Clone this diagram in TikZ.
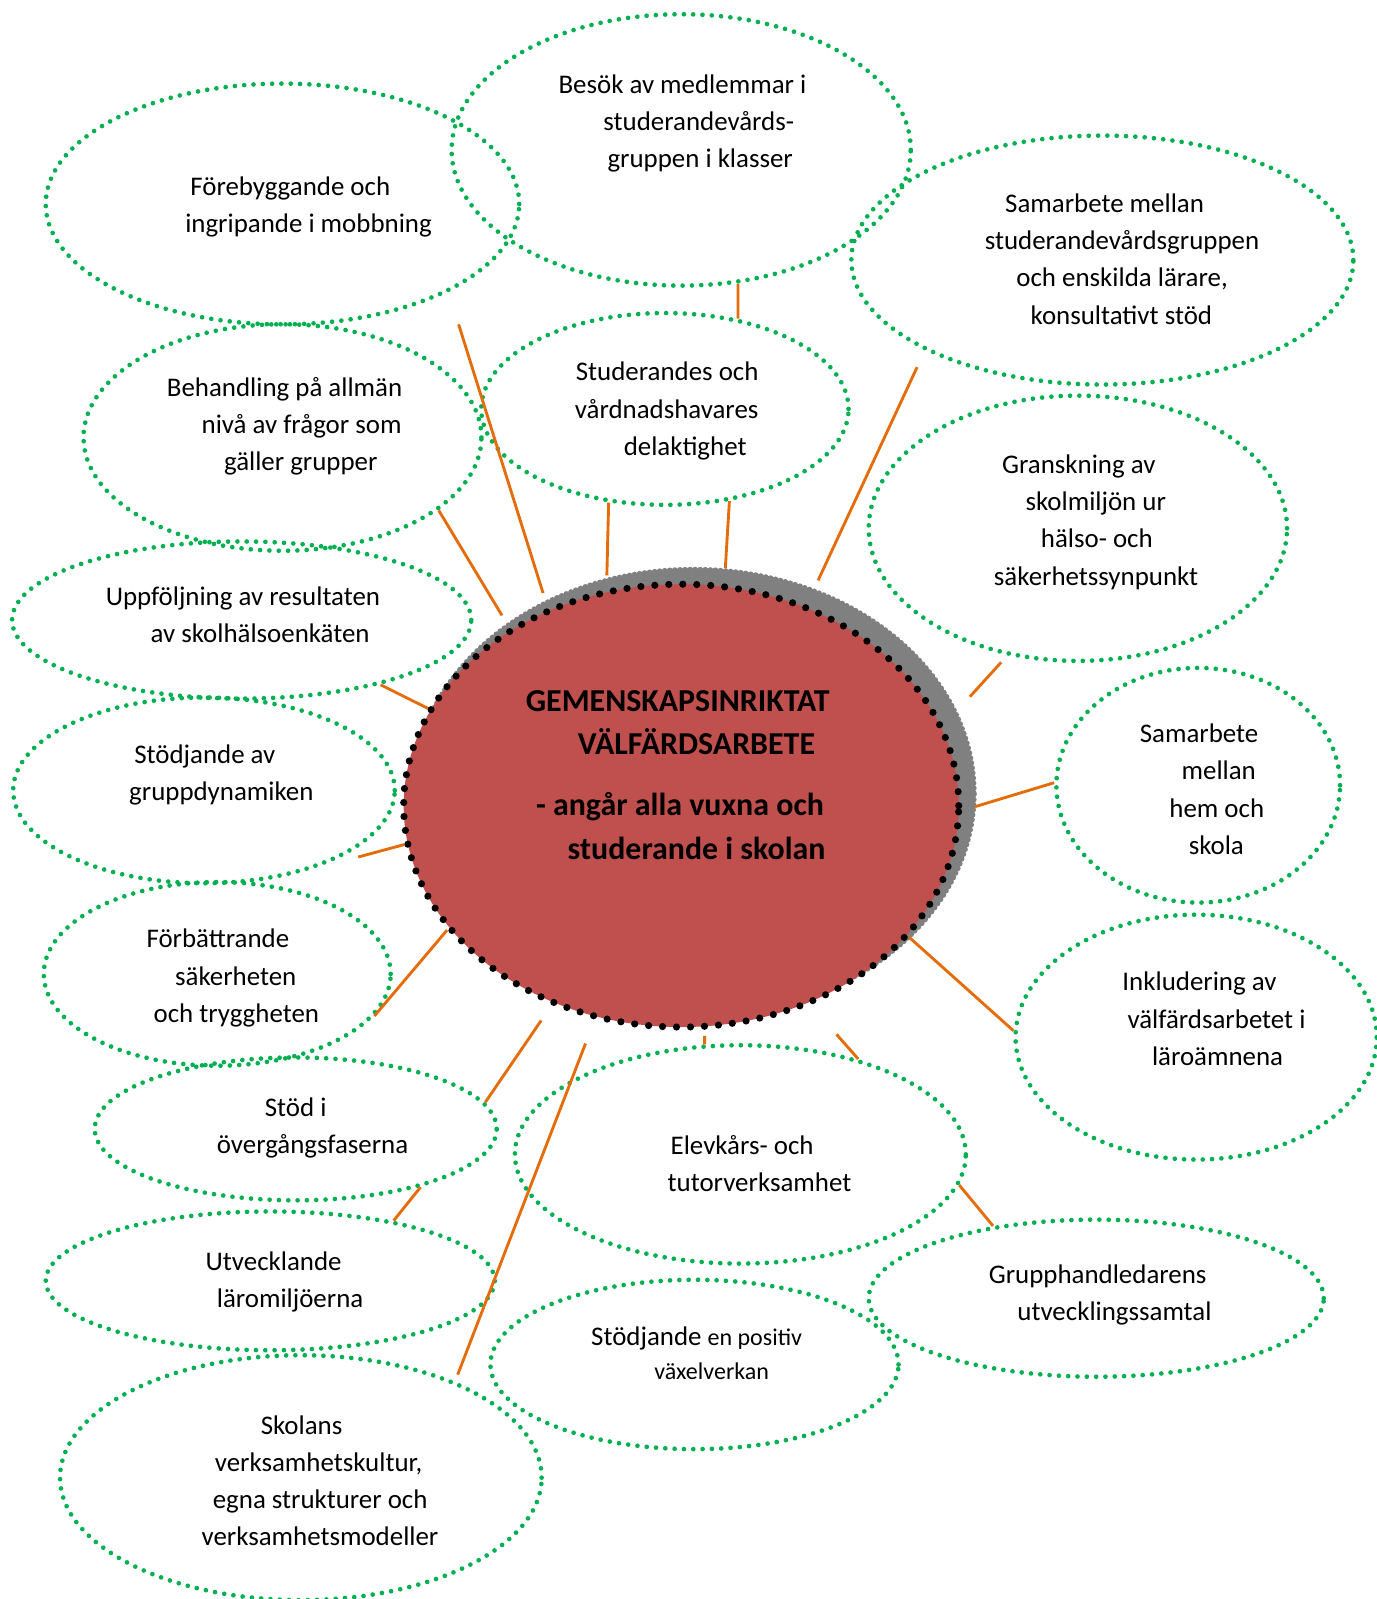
\documentclass[tikz,border=0pt]{standalone}
\usepackage{fontspec}
\setmainfont{Carlito}
\usepackage{tikz}
\usetikzlibrary{shapes,arrows,shadows}
\definecolor{vgreen}{RGB}{0,176,80}
\definecolor{vorange}{RGB}{228,108,10}
\definecolor{vred}{RGB}{192,80,77}
\tikzstyle{bubble} = [ellipse, draw=vgreen, line width=1.3pt, dash pattern=on 0pt off 2.6pt, line cap=round, inner sep=0pt]
\tikzstyle{hub} = [ellipse, fill=vred, draw=black, line width=2pt, dash pattern=on 0pt off 3.9pt, line cap=round, inner sep=0pt,
  drop shadow={shadow xshift=0.12cm, shadow yshift=0.12cm, shadow scale=1.01, fill=gray, draw=gray, line width=1.6pt, dash pattern=on 0pt off 1.4pt, line cap=round, opacity=1}]
\tikzstyle{txt} = [anchor=west, align=left, inner sep=0pt, font=\fontsize{7.5pt}{10.4pt}\selectfont]
\tikzstyle{link} = [draw=vorange, line width=0.8pt]

\begin{document}
\begin{tikzpicture}[x=0.01cm,y=-0.01cm]
\useasboundingbox (0,0) rectangle (1350,1568);

\node[bubble, minimum width=4.64cm, minimum height=2.36cm] (mob) at (277,200) {};
\node[bubble, minimum width=4.50cm, minimum height=2.66cm] (besok) at (668,147) {};
\node[bubble, minimum width=4.92cm, minimum height=2.44cm] (samst) at (1081,255) {};
\node[bubble, minimum width=3.90cm, minimum height=2.22cm] (beh) at (277,429) {};
\node[bubble, minimum width=3.60cm, minimum height=1.88cm] (delak) at (652,401) {};
\node[bubble, minimum width=4.10cm, minimum height=2.60cm] (gransk) at (1057,518) {};
\node[bubble, minimum width=4.50cm, minimum height=1.54cm] (uppf) at (237,608) {};
\node[bubble, minimum width=3.74cm, minimum height=1.82cm] (gdyn) at (200,775) {};
\node[bubble, minimum width=2.78cm, minimum height=2.30cm] (hem) at (1175,770) {};
\node[bubble, minimum width=3.40cm, minimum height=1.80cm] (sak) at (213,955) {};
\node[bubble, minimum width=3.54cm, minimum height=2.40cm] (inkl) at (1173,1017) {};
\node[bubble, minimum width=3.94cm, minimum height=1.40cm] (overg) at (290,1107) {};
\node[bubble, minimum width=4.42cm, minimum height=2.14cm] (elev) at (726,1132) {};
\node[bubble, minimum width=4.40cm, minimum height=1.36cm] (laro) at (265,1256) {};
\node[bubble, minimum width=4.46cm, minimum height=1.54cm] (handl) at (1075,1273) {};
\node[bubble, minimum width=4.00cm, minimum height=1.66cm] (vaxel) at (681,1338) {};
\node[bubble, minimum width=4.72cm, minimum height=2.40cm] (kult) at (295,1449) {};

\node[hub, minimum width=5.44cm, minimum height=4.34cm] (hub) at (668,790) {};

\node[txt] (mobt) at (181,203) {\hspace*{0.05cm}Förebyggande och\\ingripande i mobbning};
\node[txt] (besokt) at (547,121) {Besök av medlemmar i\\\hspace*{0.44cm}studerandevårds-\\\hspace*{0.48cm}gruppen i klasser};
\node[txt] (samstt) at (965,254) {\hspace*{0.20cm}Samarbete mellan\\studerandevårdsgruppen\\\hspace*{0.31cm}och enskilda lärare,\\\hspace*{0.45cm}konsultativt stöd};
\node[txt] (beht) at (163,418) {Behandling på allmän\\\hspace*{0.34cm}nivå av frågor som\\\hspace*{0.56cm}gäller grupper};
\node[txt] (delakt) at (563,403) {\hspace*{0.01cm}Studerandes och\\vårdnadshavares\\\hspace*{0.48cm}delaktighet};
\node[txt] (granskt) at (974,512) {\hspace*{0.08cm}Granskning av\\\hspace*{0.31cm}skolmiljön ur\\\hspace*{0.46cm}hälso- och\\säkerhetssynpunkt};
\node[txt] (uppft) at (103,603) {Uppföljning av resultaten\\\hspace*{0.44cm}av skolhälsoenkäten};
\node[txt] (gdynt) at (126,760) {\hspace*{0.05cm}Stödjande av\\gruppdynamiken};
\node[txt] (hemt) at (1117,774) {Samarbete\\\hspace*{0.41cm}mellan\\\hspace*{0.29cm}hem och\\\hspace*{0.48cm}skola};
\node[txt] (sakt) at (143,959) {Förbättrande\\\hspace*{0.28cm}säkerheten\\\hspace*{0.07cm}och tryggheten};
\node[txt] (inklt) at (1100,999) {Inkludering av\\\hspace*{0.05cm}välfärdsarbetet i\\\hspace*{0.29cm}läroämnena};
\node[txt] (overgt) at (212,1106) {\hspace*{0.47cm}Stöd i\\övergångsfaserna};
\node[txt] (elevt) at (654,1141) {\hspace*{0.03cm}Elevkårs- och\\tutorverksamhet};
\node[txt] (larot) at (201,1257) {Utvecklande\\\hspace*{0.11cm}läromiljöerna};
\node[txt] (handlt) at (969,1270) {Grupphandledarens\\\hspace*{0.28cm}utvecklingssamtal};
\node[txt] (vaxelt) at (579,1327) {Stödjande {\fontsize{6.7pt}{9pt}\selectfont en positiv}\\[-0.035cm]\hspace*{0.62cm}{\fontsize{6.7pt}{9pt}\selectfont växelverkan}};
\node[txt] (kultt) at (197,1452) {\hspace*{0.58cm}Skolans\\\hspace*{0.13cm}verksamhetskultur,\\\hspace*{0.11cm}egna strukturer och\\verksamhetsmodeller};

\node[txt, font=\fontsize{8.9pt}{12.2pt}\selectfont\bfseries] (hubt) at (515,760) {GEMENSKAPSINRIKTAT\\\hspace*{0.51cm}VÄLFÄRDSARBETE\\[0.17cm]\hspace*{0.10cm}- angår alla vuxna och\\\hspace*{0.41cm}studerande i skolan};

\path[link]
(hub.124) edge [shorten <=0.15cm, shorten >=0.33cm] (mob.-28)
(besok.-67) edge [] (delak.51)
(hub.58) edge [shorten <=0.26cm, shorten >=0.18cm] (samst.-153)
(hub.134) edge [shorten <=0.14cm] (beh.-25)
(hub.109) edge [shorten <=0.13cm] (delak.-121)
(hub.79) edge [shorten <=0.15cm] (delak.-55)
(hub.17) edge [shorten <=0.38cm, shorten >=0.09cm] (gransk.-119)
(hub.159) edge [] (uppf.-25)
(hub.-1) edge [shorten <=0.13cm] (hem.179)
(hub.188) edge [shorten >=0.70cm] (gdyn.-45)
(hub.208) edge [] (sak.-15)
(hub.-30) edge [] (inkl.178)
(hub.237) edge [shorten <=0.18cm] (overg.8)
(hub.-84) edge [shorten <=0.06cm] (elev.108)
(hub.-57) edge [shorten <=0.38cm] (elev.39)
(elev.-8) edge [] (handl.145)
(overg.-25) edge [] (laro.26)
(hub.248) edge [shorten <=0.25cm, shorten >=0.07cm] (kult.32);
\end{tikzpicture}
\end{document}
